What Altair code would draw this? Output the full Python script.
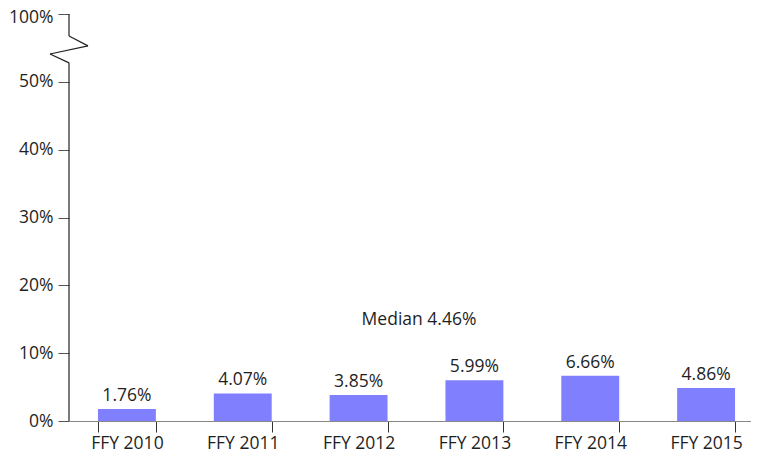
import altair as alt
import pandas as pd

years = ["FFY 2010", "FFY 2011", "FFY 2012", "FFY 2013", "FFY 2014", "FFY 2015"]
rates = [0.0176, 0.0407, 0.0385, 0.0599, 0.0666, 0.0486]
labels = ["1.76%", "4.07%", "3.85%", "5.99%", "6.66%", "4.86%"]
median_label = ["Median 4.46%"]
median_label_pos = [0.1485]
y_ticks = [0, 0.1, 0.2, 0.3, 0.4, 0.5, 0.6]

# axis break decoration (pixel x offsets from axis, y in data units)
brk_x0 = [0, 0, 19, -19, 0]
brk_x1 = [0, 19, -19, 0, 0]
brk_y0 = [0.6, 0.5676, 0.553, 0.541, 0.528]
brk_y1 = [0.5676, 0.553, 0.541, 0.528, 0.0]

FONT = "Open Sans"
FS = 17.5
TXT = "#1f1f1f"

df = pd.DataFrame({"year": years, "rate": rates, "label": labels})
brk = pd.DataFrame({"x0": brk_x0, "x1": brk_x1, "y0": brk_y0, "y1": brk_y1})
med = pd.DataFrame({"label": median_label, "y": median_label_pos})

W, H = 682, 407
XRANGE = 695  # bands run past the visible right edge, as in the original

yscale = alt.Scale(domain=[0, 0.6], nice=False)
yaxis = alt.Axis(
    values=y_ticks,
    labelExpr="datum.value >= 0.6 ? '100%' : format(datum.value, '.0%')",
    labelOffset={"condition": {"test": "datum.value >= 0.6", "value": 3}, "value": 0},
    domain=False, grid=False, title=None, tickSize=11, labelPadding=5,
    tickColor="#555555", labelFont=FONT, labelFontSize=FS, labelColor=TXT,
)
xscale = alt.Scale(paddingInner=0.5, paddingOuter=0.25, range=[0, XRANGE])
xaxis = alt.Axis(title=None, labelAngle=0, tickBand="extent", tickSize=11,
                 labelPadding=2, domainColor="#888888", tickColor="#333333",
                 labelFont=FONT, labelFontSize=FS, labelColor=TXT)

base = alt.Chart(df)
bars = base.mark_bar(color="#8080FF").encode(
    x=alt.X("year:N", sort=years, scale=xscale, axis=xaxis),
    y=alt.Y("rate:Q", scale=yscale, axis=yaxis),
)
texts = base.mark_text(baseline="bottom", dy=-4, font=FONT, fontSize=FS, color=TXT).encode(
    x=alt.X("year:N", sort=years),
    y=alt.Y("rate:Q"),
    text="label:N",
)
median = alt.Chart(med).mark_text(baseline="middle", font=FONT, fontSize=FS, color=TXT).encode(
    x=alt.value(350),
    y=alt.Y("y:Q"),
    text="label:N",
)
brk_layer = alt.Chart(brk).mark_rule(color="#222222", strokeWidth=1.2).encode(
    x=alt.X("x0:Q", scale=None, axis=None),
    x2="x1:Q",
    y=alt.Y("y0:Q"),
    y2="y1:Q",
)

chart = alt.layer(bars, texts, median, brk_layer).properties(
    width=W, height=H,
    background="white",
    autosize=alt.AutoSizeParams(type="none"),
    padding={"left": 61, "top": 6, "right": 0, "bottom": 32},
).configure_view(stroke=None)

chart.save("out.html", embed_options={"renderer": "svg", "actions": False})
